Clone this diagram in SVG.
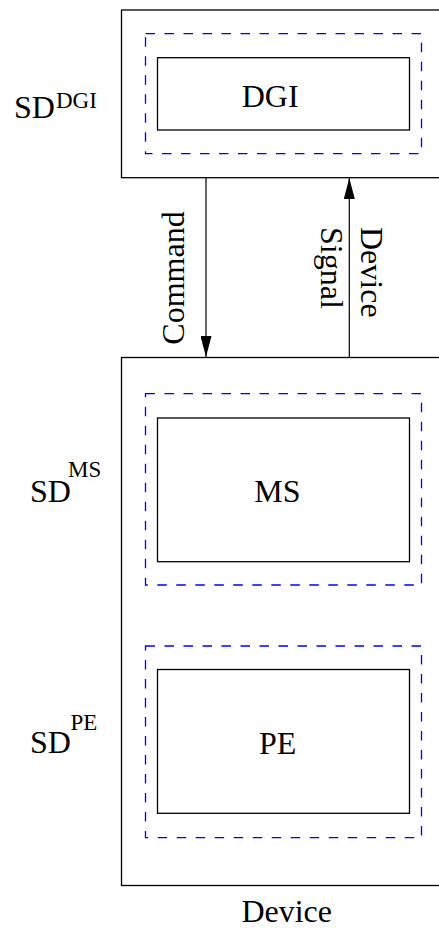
<svg xmlns="http://www.w3.org/2000/svg" width="439" height="928" viewBox="0 0 439 928">
<defs>
<style>
.outer{fill:none;stroke:#000;stroke-width:1.3}
.inner{fill:none;stroke:#000;stroke-width:1.3}
.dash{fill:none;stroke:#0000ff;stroke-width:1.3;stroke-dasharray:9.5 9.5}
.t{font-family:"Liberation Serif","Times New Roman",serif;font-size:32px;fill:#000}
.sup{font-family:"Liberation Serif","Times New Roman",serif;font-size:23px;fill:#000}
.conn{fill:none;stroke:#000;stroke-width:1.2}
</style>
<marker id="ah" viewBox="0 0 21 11" refX="21" refY="5.5" markerWidth="21" markerHeight="11" markerUnits="userSpaceOnUse" orient="auto">
<path d="M0,0 L21,5.5 L0,11 Z" fill="#000"/>
</marker>
</defs>
<g id="sd-dgi">
<rect class="outer" x="121.5" y="10" width="330" height="167.7"/>
<rect class="dash" x="145.5" y="33.7" width="276" height="120"/>
<rect class="inner" x="157.5" y="57.7" width="252" height="72.3"/>
<text class="t" x="241.7" y="107">DGI</text>
<text class="t" x="14" y="118">SD</text>
<text class="sup" x="56" y="108">DGI</text>
</g>
<g id="device">
<rect class="outer" x="121.5" y="357.5" width="330" height="528"/>
<text class="t" x="286.7" y="921.5" text-anchor="middle">Device</text>
</g>
<g id="sd-ms">
<rect class="dash" x="145.5" y="393.7" width="276" height="191.3"/>
<rect class="inner" x="157.5" y="418" width="252" height="143.7"/>
<text class="t" x="254.3" y="501.7">MS</text>
<text class="t" x="30" y="501.7">SD</text>
<text class="sup" x="68" y="476.7">MS</text>
</g>
<g id="sd-pe">
<rect class="dash" x="145.5" y="646" width="276" height="191.7"/>
<rect class="inner" x="157.5" y="669.5" width="252" height="143.8"/>
<text class="t" x="259" y="754">PE</text>
<text class="t" x="30" y="753.3">SD</text>
<text class="sup" x="70.5" y="730">PE</text>
</g>
<g id="connectors">
<line class="conn" x1="206" y1="178" x2="206" y2="357" marker-end="url(#ah)"/>
<line class="conn" x1="349.3" y1="357" x2="349.3" y2="178" marker-end="url(#ah)"/>
<text class="t" transform="translate(184,278) rotate(-90)" text-anchor="middle">Command</text>
<text class="t" transform="translate(361,227) rotate(90)">Device</text>
<text class="t" transform="translate(321,227) rotate(90)">Signal</text>
</g>
</svg>
